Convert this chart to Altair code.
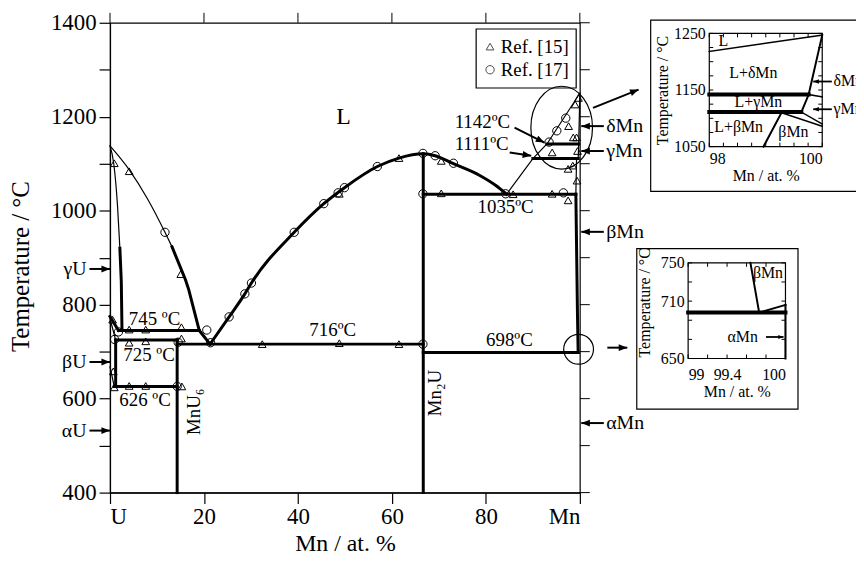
import altair as alt
import pandas as pd

FONT = "Liberation Serif"

# ---------------- main diagram: experimental points ----------------
ref15_x = [0.91, 4.08, 15.06, 48.8, 61.5, 32.4, 48.8, 61.5, 70.5, 70.5, 85.8,
           94.1, 97.5, 99.4, 97.5, 98.5, 94.1, 99.5, 98.6, 99.3, 97.6, 99.0, 99.7,
           0.55, 4.08, 7.6, 15.2, 4.08, 7.6, 15.2, 0.7, 0.9, 4.08, 7.6, 15.3]
ref15_t = [1101, 1084, 865, 1036, 1112, 716, 718, 716, 1106, 1037, 1035,
           1036, 1022, 1064, 1089, 1096, 1124, 1127, 1156, 1156, 1180, 1226, 1240,
           768, 747, 747, 752, 719, 722, 728, 658, 624, 627, 627, 626]
ref17_x = [11.7, 20.6, 21.4, 25.35, 28.7, 30.1, 39.2, 45.5, 48.55, 49.9, 56.9,
           66.6, 69.2, 73.1, 84.2, 66.6, 96.5, 93.45, 95.1, 97.0, 66.6, 1.8, 0.97, 14.5, 14.3]
ref17_t = [954, 746, 719, 774, 823, 846, 954, 1015, 1038, 1049, 1094,
           1122, 1117, 1101, 1036, 1036, 1038, 1146, 1170, 1197, 716, 742, 726, 720, 626]

# ---------------- main diagram: phase boundaries ----------------
thick_curves = {
    "liq_main": ([21.3, 25.35, 28.7, 30.1, 39.2, 45.5, 49.9, 56.9, 61.5, 66.67, 69.2, 73.1, 78.7, 82.2, 84.4],
                 [716, 774, 823, 846, 954, 1015, 1049, 1094, 1112, 1121, 1117, 1100, 1075, 1053, 1035]),
}
thick_lines = {
    "liq_U_low": ([13.2, 16.06, 16.75, 19.0, 21.3], [923, 853, 832, 745, 716]),
    "solv_bMn": ([99.15, 99.5, 99.64], [1035, 775, 698]),
    "solv_gU_low": ([2.1, 2.4, 2.55], [920, 850, 745]),
    "gU_bU": ([0, 1.8], [775, 745]),
    "bU_solv": ([1.2, 1.2], [725, 626]),
    "iso_745": ([1.8, 19.0], [745, 745]),
    "iso_725": ([1.2, 14.29], [725, 725]),
    "iso_716": ([14.29, 66.67], [716, 716]),
    "iso_626": ([0.9, 14.29], [626, 626]),
    "iso_698": ([66.67, 99.64], [698, 698]),
    "iso_1035": ([66.67, 99.15], [1035, 1035]),
    "iso_1142": ([93.0, 99.75], [1142, 1142]),
    "iso_1111": ([90.0, 99.65], [1111, 1111]),
    "MnU6": ([14.29, 14.29], [400, 725]),
    "Mn2U": ([66.67, 66.67], [400, 1121]),
}
thin_curves = {
    "liq_U_high": ([0, 4.1, 8.0, 11.7, 13.2], [1138, 1087, 1025, 954, 923]),
    "solv_gU_high": ([0, 0.8, 1.6, 2.1], [1138, 1100, 1010, 920]),
}
thin_lines = {
    "liq_Mn": ([84.4, 90.0, 93.0, 100], [1035, 1111, 1142, 1250]),
    "sol_Mn": ([100, 99.75, 99.65], [1250, 1142, 1111]),
    "sol_bMn": ([99.3, 99.15], [1111, 1035]),
    "gU_bU_b": ([0, 1.2], [770, 725]),
    "bU_aU": ([0, 0.9], [668, 626]),
}

# annotations (centre positions, data units)
ann_text = ["745 ºC", "725 ºC", "626 ºC", "716ºC", "698ºC", "1035ºC", "1142ºC", "1111ºC"]
ann_x = [9.47, 8.3, 7.45, 47.4, 85.0, 84.2, 79.25, 79.1]
ann_t = [770, 692, 596, 745, 724, 1008, 1189, 1142]

phase_left_text = ["γU", "βU", "αU"]
phase_left_t = [876, 678, 532]
phase_right_text = ["δMn", "γMn", "βMn", "αMn"]
phase_right_t = [1180, 1127, 955, 548]

arrow_x1 = [-4.37, -4.37, -4.37, 105.1, 105.1, 105.1, 105.1, 86.1, 85.06, 102.8, 105.85]
arrow_t1 = [876, 678, 532, 1180, 1127, 955, 548, 1176.7, 1123.9, 1219, 708.5]
arrow_x2 = [0, 0, 0, 100.3, 100.3, 100.3, 100.3, 92.46, 89.65, 112.5, 110.1]
arrow_t2 = [876, 678, 532, 1180, 1127, 955, 548, 1145, 1116.9, 1257.8, 708.5]
arrow_angle = [90, 90, 90, 270, 270, 270, 270, 116.6, 98.7, 68.2, 90]

# ---------------- inset 1 (98-100 %, 1050-1250 C) ----------------
in1_thick = {
    "iso_1142": ([98, 99.76], [1142, 1142]),
    "iso_1111": ([98, 99.63], [1111, 1111]),
}
in1_mid = {
    "solidus": ([100, 99.76, 99.63], [1247, 1142, 1111]),
    "b_liq": ([99.28, 98.96], [1110, 1050]),
}
in1_thin = {
    "liquidus": ([98, 100], [1218, 1247]),
    "dg": ([99.76, 100], [1142, 1138]),
    "gb1": ([99.63, 100], [1111, 1090]),
    "gb2": ([99.28, 100], [1110, 1086]),
}
in1_text = ["L", "L+δMn", "L+γMn", "L+βMn", "βMn"]
in1_text_x = [98.25, 98.78, 98.87, 98.52, 99.49]
in1_text_t = [1237, 1180, 1129, 1084, 1075]
in1_side_text = ["δMn", "γMn"]
in1_side_t = [1165, 1116]
in1_xticks = [98, 98.25, 98.5, 98.75, 99, 99.25, 99.5, 99.75, 100]
in1_yticks = [1050, 1075, 1100, 1125, 1150, 1175, 1200, 1225, 1250]

# ---------------- inset 2 (99-100 %, 650-750 C) ----------------
in2_thick = {"iso_698": ([99, 100], [698, 698])}
in2_mid = {
    "b_solv": ([99.64, 99.73], [750, 698]),
    "b_a": ([99.73, 100], [698, 706]),
    "edge": ([100, 100], [650, 706]),
}
in2_text = ["βMn", "αMn"]
in2_text_x = [99.82, 99.56]
in2_text_t = [739, 672.5]
in2_xticks = [99, 99.2, 99.4, 99.6, 99.8, 100]
in2_yticks = [650, 670, 690, 710, 730, 750]

# ---------------- scales ----------------
MX = alt.Scale(domain=[0, 100], nice=False, zero=False)
MY = alt.Scale(domain=[400, 1400], nice=False, zero=False)
I1X = alt.Scale(domain=[98, 100], range=[603.3, 717], nice=False, zero=False)
I1Y = alt.Scale(domain=[1050, 1250], range=[124.7, 10.7], nice=False, zero=False)
I2X = alt.Scale(domain=[99, 100], range=[582, 680], nice=False, zero=False)
I2Y = alt.Scale(domain=[650, 750], range=[338, 241.7], nice=False, zero=False)

HEAD = "M0,0L-0.4,1L0.4,1Z"
ELLIPSE = ("M0.744,0C0.744,0.552,0.411,1,0,1C-0.411,1,-0.744,0.552,-0.744,0"
           "C-0.744,-0.552,-0.411,-1,0,-1C0.411,-1,0.744,-0.552,0.744,0Z")

# ---------------- axes ----------------
main_x_axis = alt.Axis(
    orient="bottom", values=[0, 20, 40, 60, 80, 100], format="d",
    labelExpr="datum.value == 0 ? 'U' : (datum.value == 100 ? 'Mn' : datum.label)",
    title="Mn / at. %", tickSize=11, tickWidth=1.2, domainWidth=1.2,
    labelFontSize=23, titleFontSize=24, labelPadding=2, titleY=39, grid=False)
main_y_axis = alt.Axis(
    orient="left", values=list(range(400, 1401, 100)), format="d",
    labelExpr="datum.value % 200 == 0 ? datum.label : ''",
    title="Temperature / °C", tickSize=11, tickWidth=1.2, domainWidth=1.2,
    labelFontSize=23, titleFontSize=25, labelPadding=3, titleX=-77, titleY=245, grid=False)
in1_x_axis = alt.Axis(orient="bottom", offset=124.7 - 473, values=[98, 99, 100], format="d",
                      ticks=False, domain=False, labelFontSize=16, titleFontSize=16,
                      labelPadding=4, titlePadding=1, title="Mn / at. %", grid=False)
in1_y_axis = alt.Axis(orient="left", offset=-603.3, values=[1050, 1150, 1250], format="d",
                      ticks=False, domain=False, labelFontSize=16, titleFontSize=16,
                      labelPadding=4, titlePadding=3, title="Temperature / °C", grid=False)
in2_x_axis = alt.Axis(orient="bottom", offset=338 - 473, values=[99, 99.4, 100], format="~g",
                      ticks=False, domain=False, labelFontSize=16, titleFontSize=16,
                      labelPadding=8, titlePadding=1, title="Mn / at. %", grid=False)
in2_y_axis = alt.Axis(orient="left", offset=-582, values=[650, 710, 750], format="d",
                      ticks=False, domain=False, labelFontSize=16, titleFontSize=16,
                      labelPadding=4, titlePadding=8, titleY=281.5, title="Temperature / °C", grid=False)

MAIN = (MX, MY, main_x_axis, main_y_axis)
INS1 = (I1X, I1Y, in1_x_axis, in1_y_axis)
INS2 = (I2X, I2Y, in2_x_axis, in2_y_axis)


def XY(g, xf="x", yf="t"):
    sx, sy, ax, ay = g
    return dict(x=alt.X(f"{xf}:Q", scale=sx, axis=ax), y=alt.Y(f"{yf}:Q", scale=sy, axis=ay))


def lines_df(d):
    rows = []
    for name, (xs, ts) in d.items():
        for i, (x, t) in enumerate(zip(xs, ts)):
            rows.append({"name": name, "i": i, "x": x, "t": t})
    return pd.DataFrame(rows)


def line_layer(d, g, width, interp="linear"):
    return alt.Chart(lines_df(d)).mark_line(
        color="black", strokeWidth=width, interpolate=interp, strokeCap="square"
    ).encode(**XY(g), detail="name:N", order="i:Q")


def text_layer(labels, xs, ts, g, size, align="center", angle=0):
    df = pd.DataFrame({"label": labels, "x": xs, "t": ts})
    return alt.Chart(df).mark_text(
        font=FONT, fontSize=size, align=align, baseline="middle", angle=angle, color="black"
    ).encode(**XY(g), text="label:N")


def point_layer(xs, ts, g, shape, size, filled=False, width=1.0):
    df = pd.DataFrame({"x": xs, "t": ts})
    return alt.Chart(df).mark_point(
        shape=shape, size=size, filled=filled, color="black", strokeWidth=width, opacity=1
    ).encode(**XY(g))


def arrow_layers(x1, t1, x2, t2, ang, g, width, head):
    df = pd.DataFrame({"x": x1, "t": t1, "x2": x2, "t2": t2, "ang": ang})
    shaft = alt.Chart(df).mark_rule(color="black", strokeWidth=width).encode(
        **XY(g), x2="x2:Q", y2="t2:Q")
    tip = alt.Chart(df).mark_point(
        shape=HEAD, filled=True, color="black", size=head, opacity=1
    ).encode(**XY(g, xf="x2", yf="t2"), angle=alt.Angle("ang:Q", scale=None))
    return [shaft, tip]


def tick_layer(vals, fixed, g, vertical, offset):
    if vertical:
        df = pd.DataFrame({"x": vals, "t": [fixed] * len(vals)})
        return alt.Chart(df).mark_rule(color="black", strokeWidth=1, y2Offset=offset).encode(
            **XY(g), y2="t:Q")
    df = pd.DataFrame({"x": [fixed] * len(vals), "t": vals})
    return alt.Chart(df).mark_rule(color="black", strokeWidth=1, x2Offset=offset).encode(
        **XY(g), x2="x:Q")


# ---------------- main group ----------------
main_layers = [
    line_layer(thick_lines, MAIN, 3),
    line_layer(thick_curves, MAIN, 3, interp="monotone"),
    line_layer(thin_lines, MAIN, 1.2),
    line_layer(thin_curves, MAIN, 1.2, interp="monotone"),
    point_layer(ref15_x, ref15_t, MAIN, "triangle-up", 60),
    point_layer(ref17_x, ref17_t, MAIN, "circle", 70),
    point_layer([96.13], [1176.7], MAIN, ELLIPSE, 6956, width=1.2),
    point_layer([99.73], [705], MAIN, "circle", 900, width=1.2),
    text_layer(ann_text, ann_x, ann_t, MAIN, 19),
    text_layer(["L"], [49.7], [1199], MAIN, 24),
    text_layer(["MnU₆"], [17.8], [572], MAIN, 19, angle=270),
    text_layer(["Mn₂U"], [69.2], [612], MAIN, 19, angle=270),
    text_layer(phase_left_text, [-5.0] * 3, phase_left_t, MAIN, 20, align="right"),
    text_layer(phase_right_text, [105.6] * 4, phase_right_t, MAIN, 20, align="left"),
    tick_layer([0, 20, 40, 60, 80, 100], 1400, MAIN, True, -10),
    tick_layer(list(range(400, 1401, 100)), 100, MAIN, False, 10),
] + arrow_layers(arrow_x1, arrow_t1, arrow_x2, arrow_t2, arrow_angle, MAIN, 2, 300)
main = alt.layer(*main_layers)

# legend + inset frames (pixel placed)
one = pd.DataFrame({"k": [0]})
legend = alt.layer(
    alt.Chart(one).mark_rect(fill=None, stroke="black", strokeWidth=1.2).encode(
        x=alt.value(368.6), x2=alt.value(469.3), y=alt.value(6.3), y2=alt.value(65.7)),
    alt.Chart(one).mark_point(shape="triangle-up", size=60, color="black", strokeWidth=1).encode(
        x=alt.value(382.6), y=alt.value(24)),
    alt.Chart(one).mark_point(shape="circle", size=70, color="black", strokeWidth=1).encode(
        x=alt.value(382.6), y=alt.value(47.3)),
    alt.Chart(one).mark_text(font=FONT, fontSize=19, align="left", baseline="middle").encode(
        x=alt.value(393.3), y=alt.value(24), text=alt.value("Ref. [15]")),
    alt.Chart(one).mark_text(font=FONT, fontSize=19, align="left", baseline="middle").encode(
        x=alt.value(393.3), y=alt.value(47.3), text=alt.value("Ref. [17]")),
    alt.Chart(one).mark_rect(fill=None, stroke="black", strokeWidth=1.2).encode(
        x=alt.value(544.3), x2=alt.value(770), y=alt.value(-2.7), y2=alt.value(169.7)),
    alt.Chart(one).mark_rect(fill=None, stroke="black", strokeWidth=1.2).encode(
        x=alt.value(530.3), x2=alt.value(692.6), y=alt.value(227.3), y2=alt.value(389)),
)

# ---------------- inset 1 ----------------
frame1 = alt.Chart(pd.DataFrame({"x": [98], "x2": [100], "t": [1050], "t2": [1250]})).mark_rect(
    fill=None, stroke="black", strokeWidth=1.2).encode(**XY(INS1), x2="x2:Q", y2="t2:Q")
ins1 = alt.layer(
    frame1,
    line_layer(in1_thick, INS1, 4),
    line_layer(in1_mid, INS1, 2),
    line_layer(in1_thin, INS1, 1.5),
    text_layer(in1_text, in1_text_x, in1_text_t, INS1, 16),
    text_layer(in1_side_text, [100.2, 100.2], in1_side_t, INS1, 16, align="left"),
    tick_layer(in1_xticks, 1050, INS1, True, -4),
    tick_layer(in1_xticks, 1250, INS1, True, 4),
    tick_layer(in1_yticks, 98, INS1, False, 4),
    tick_layer(in1_yticks, 100, INS1, False, -4),
    *arrow_layers([100.17, 100.17], in1_side_t, [99.84, 99.84], in1_side_t, [270, 270], INS1, 1.8, 130),
)

# ---------------- inset 2 ----------------
frame2 = alt.Chart(pd.DataFrame({"x": [99], "x2": [100], "t": [650], "t2": [750]})).mark_rect(
    fill=None, stroke="black", strokeWidth=1.2).encode(**XY(INS2), x2="x2:Q", y2="t2:Q")
ins2 = alt.layer(
    frame2,
    line_layer(in2_thick, INS2, 4),
    line_layer(in2_mid, INS2, 2),
    text_layer(in2_text, in2_text_x, in2_text_t, INS2, 16),
    tick_layer(in2_xticks, 650, INS2, True, -4),
    tick_layer(in2_xticks, 750, INS2, True, 4),
    tick_layer(in2_yticks, 99, INS2, False, 4),
    tick_layer(in2_yticks, 100, INS2, False, -4),
    *arrow_layers([99.8], [672.5], [99.98], [672.5], [90], INS2, 1.8, 110),
)

chart = alt.layer(main, legend, ins1, ins2).resolve_scale(
    x="independent", y="independent"
).resolve_axis(
    x="independent", y="independent"
).properties(
    width=473, height=473,
    autosize=alt.AutoSizeParams(type="none"),
    padding={"left": 102.7, "top": 13, "right": 278, "bottom": 68},
    background="white",
).configure_view(
    stroke="black", strokeWidth=1.2
).configure_axis(
    labelFont=FONT, titleFont=FONT, labelColor="black", titleColor="black",
    domainColor="black", tickColor="black", titleFontWeight="normal"
)

chart.save("out.html", embed_options={"renderer": "svg", "actions": False})
